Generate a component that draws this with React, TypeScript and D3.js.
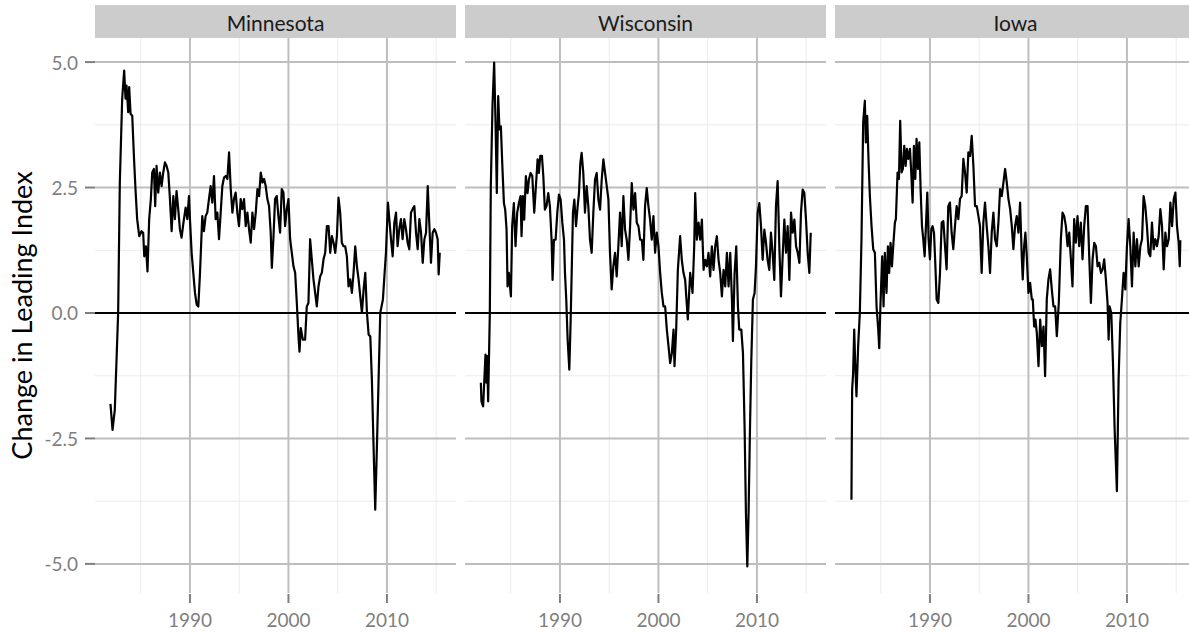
import { useEffect, useRef } from 'react'
import * as d3 from 'd3'

const states = ['Minnesota', 'Wisconsin', 'Iowa']

// [decimal year, change in leading index]
const minnesota: [number, number][] = [
  [1981.93, -1.81], [1982.14, -2.33], [1982.37, -1.93], [1982.71, 0.0], [1982.88, 2.6], [1983.12, 4.27], [1983.32, 4.83],
  [1983.46, 4.27], [1983.56, 4.53], [1983.73, 4.0], [1983.83, 4.5], [1983.97, 3.97], [1984.14, 3.93], [1984.31, 3.13],
  [1984.47, 2.47], [1984.64, 1.87], [1984.85, 1.53], [1985.08, 1.63], [1985.25, 1.6], [1985.36, 1.13], [1985.53, 1.33],
  [1985.69, 0.83], [1985.86, 1.87], [1986.03, 2.27], [1986.17, 2.8], [1986.34, 2.87], [1986.47, 2.13], [1986.61, 2.93],
  [1986.78, 2.4], [1986.95, 2.8], [1987.12, 2.53], [1987.29, 2.8], [1987.46, 3.0], [1987.63, 2.93], [1987.8, 2.8],
  [1987.97, 2.27], [1988.14, 1.63], [1988.31, 2.33], [1988.47, 1.87], [1988.64, 2.43], [1988.81, 2.07], [1988.98, 1.67],
  [1989.15, 1.5], [1989.32, 1.77], [1989.56, 2.1], [1989.73, 1.87], [1989.9, 2.33], [1990.0, 1.87], [1990.17, 1.2],
  [1990.34, 0.8], [1990.51, 0.4], [1990.68, 0.17], [1990.85, 0.13], [1991.02, 0.8], [1991.25, 1.93], [1991.42, 1.63],
  [1991.59, 1.93], [1991.76, 2.0], [1991.93, 2.27], [1992.1, 2.53], [1992.27, 2.2], [1992.44, 2.73], [1992.61, 1.87],
  [1992.78, 2.0], [1992.95, 1.47], [1993.12, 2.0], [1993.29, 2.53], [1993.46, 2.7], [1993.63, 2.73], [1993.8, 2.67],
  [1993.97, 3.2], [1994.14, 2.47], [1994.31, 2.0], [1994.47, 2.27], [1994.64, 2.4], [1994.81, 2.0], [1994.98, 1.73],
  [1995.15, 2.27], [1995.32, 2.07], [1995.49, 2.27], [1995.66, 1.73], [1995.83, 2.0], [1996.0, 1.67], [1996.17, 1.4],
  [1996.34, 2.0], [1996.51, 1.67], [1996.68, 2.0], [1996.85, 2.47], [1997.02, 2.33], [1997.19, 2.8], [1997.36, 2.6],
  [1997.53, 2.67], [1997.69, 2.53], [1997.86, 2.27], [1998.03, 2.13], [1998.2, 1.6], [1998.31, 0.9], [1998.47, 1.47],
  [1998.64, 2.27], [1998.81, 2.33], [1998.98, 1.93], [1999.15, 1.6], [1999.32, 2.47], [1999.49, 2.4], [1999.66, 1.73],
  [1999.83, 2.07], [2000.0, 2.27], [2000.17, 1.47], [2000.34, 1.2], [2000.51, 0.93], [2000.68, 0.8], [2000.85, 0.2],
  [2001.02, -0.47], [2001.12, -0.77], [2001.25, -0.3], [2001.46, -0.53], [2001.69, -0.53], [2001.86, 0.13], [2002.03, 0.2],
  [2002.2, 1.47], [2002.37, 1.07], [2002.54, 0.67], [2002.71, 0.4], [2002.88, 0.13], [2003.05, 0.53], [2003.22, 0.73],
  [2003.39, 0.8], [2003.56, 1.07], [2003.73, 1.2], [2003.9, 1.73], [2004.07, 1.73], [2004.24, 1.2], [2004.41, 1.53],
  [2004.58, 1.4], [2004.75, 1.2], [2004.92, 1.53], [2005.08, 2.3], [2005.25, 2.0], [2005.42, 1.4], [2005.59, 1.33],
  [2005.76, 1.33], [2005.93, 1.13], [2006.1, 0.53], [2006.27, 0.67], [2006.44, 0.4], [2006.61, 0.8], [2006.78, 1.33],
  [2006.95, 0.93], [2007.12, 0.67], [2007.29, 0.33], [2007.46, 0.0], [2007.63, 0.47], [2007.8, 0.8], [2007.97, 0.0],
  [2008.14, -0.43], [2008.31, -0.47], [2008.47, -1.33], [2008.64, -2.66], [2008.81, -3.92], [2008.98, -2.66],
  [2009.15, -1.33], [2009.32, 0.0], [2009.59, 0.27], [2009.73, 0.7], [2009.9, 1.2], [2010.1, 2.2], [2010.24, 1.87],
  [2010.41, 1.47], [2010.58, 1.13], [2010.75, 1.8], [2010.92, 2.0], [2011.08, 1.33], [2011.25, 1.67], [2011.42, 1.87],
  [2011.59, 1.47], [2011.76, 1.87], [2011.93, 1.67], [2012.1, 1.4], [2012.27, 1.27], [2012.44, 2.0], [2012.61, 2.07],
  [2012.78, 2.13], [2012.95, 1.6], [2013.12, 1.27], [2013.29, 1.87], [2013.46, 1.6], [2013.63, 1.0], [2013.8, 1.47],
  [2013.97, 1.6], [2014.14, 2.53], [2014.31, 1.73], [2014.47, 1.0], [2014.64, 1.6], [2014.81, 1.67], [2014.98, 1.6],
  [2015.15, 1.47], [2015.25, 0.77], [2015.36, 1.2],
]

const wisconsin: [number, number][] = [
  [1981.97, -1.39], [1982.03, -1.76], [1982.2, -1.86], [1982.31, -1.39], [1982.44, -0.83], [1982.54, -1.39],
  [1982.61, -0.86], [1982.71, -1.76], [1982.88, 0.0], [1982.98, 2.53], [1983.15, 4.12], [1983.32, 4.99], [1983.46, 3.79],
  [1983.59, 2.39], [1983.73, 4.32], [1983.86, 3.66], [1984.0, 3.72], [1984.14, 2.99], [1984.31, 2.19], [1984.44, 2.06],
  [1984.58, 1.66], [1984.68, 0.53], [1984.81, 0.8], [1985.02, 0.33], [1985.15, 1.73], [1985.32, 2.19], [1985.49, 1.33],
  [1985.66, 2.0], [1985.83, 2.19], [1986.0, 2.33], [1986.1, 1.53], [1986.24, 2.33], [1986.37, 1.86], [1986.54, 2.73],
  [1986.71, 2.39], [1986.85, 2.66], [1987.02, 2.79], [1987.19, 2.73], [1987.39, 2.0], [1987.56, 2.53], [1987.73, 3.06],
  [1987.86, 2.79], [1988.0, 3.13], [1988.17, 3.13], [1988.31, 2.73], [1988.47, 2.06], [1988.64, 2.13], [1988.81, 2.39],
  [1988.98, 2.13], [1989.15, 1.46], [1989.25, 0.66], [1989.39, 1.46], [1989.56, 1.46], [1989.73, 2.0], [1989.9, 2.36],
  [1990.07, 2.26], [1990.24, 1.8], [1990.41, 1.46], [1990.51, 0.8], [1990.64, 0.27], [1990.78, -0.53], [1990.95, -1.13],
  [1991.08, -0.2], [1991.19, 0.8], [1991.32, 2.0], [1991.46, 2.26], [1991.63, 1.73], [1991.8, 2.13], [1991.93, 2.39],
  [1992.07, 2.99], [1992.2, 3.19], [1992.37, 2.79], [1992.54, 2.0], [1992.71, 2.53], [1992.88, 2.13], [1993.05, 1.46],
  [1993.22, 1.2], [1993.39, 2.0], [1993.56, 2.66], [1993.73, 2.79], [1993.9, 2.26], [1994.07, 2.06], [1994.24, 2.66],
  [1994.41, 3.06], [1994.58, 2.79], [1994.75, 2.53], [1994.92, 2.26], [1995.08, 1.2], [1995.25, 0.47], [1995.42, 0.93],
  [1995.59, 1.2], [1995.76, 0.73], [1995.93, 1.33], [1996.1, 2.0], [1996.27, 1.33], [1996.44, 2.33], [1996.61, 1.66],
  [1996.78, 1.46], [1996.95, 1.06], [1997.12, 1.73], [1997.29, 2.59], [1997.46, 2.06], [1997.63, 2.39], [1997.8, 1.8],
  [1997.97, 1.73], [1998.14, 1.46], [1998.31, 1.46], [1998.47, 1.06], [1998.64, 2.13], [1998.81, 2.49], [1998.98, 2.13],
  [1999.15, 1.86], [1999.32, 1.46], [1999.49, 1.93], [1999.66, 1.2], [1999.83, 1.6], [2000.0, 1.33], [2000.17, 0.8],
  [2000.34, 0.4], [2000.51, 0.13], [2000.68, 0.13], [2000.85, -0.33], [2001.02, -0.66], [2001.19, -1.0], [2001.36, -0.8],
  [2001.53, -0.33], [2001.63, -1.06], [2001.8, -0.33], [2001.97, 0.86], [2002.2, 1.53], [2002.37, 1.06], [2002.54, 0.8],
  [2002.71, 0.66], [2002.98, -0.13], [2003.22, 0.8], [2003.46, 0.4], [2003.63, 1.33], [2003.73, 2.39], [2003.9, 1.46],
  [2004.07, 1.8], [2004.24, 1.46], [2004.41, 1.86], [2004.58, 0.86], [2004.75, 1.06], [2004.92, 0.93], [2005.08, 1.2],
  [2005.25, 0.73], [2005.42, 1.33], [2005.59, 0.86], [2005.76, 1.33], [2005.93, 1.53], [2006.1, 1.06], [2006.27, 0.8],
  [2006.44, 0.33], [2006.61, 0.86], [2006.78, 0.53], [2006.95, 1.2], [2007.12, 0.53], [2007.29, 1.2], [2007.46, 0.27],
  [2007.56, -0.56], [2007.73, 0.8], [2007.9, 1.33], [2008.07, 0.13], [2008.2, -0.33], [2008.41, -0.33], [2008.58, -0.8],
  [2008.75, -2.32], [2008.88, -3.98], [2009.02, -5.05], [2009.15, -3.98], [2009.29, -2.32], [2009.42, -1.0],
  [2009.59, 0.27], [2009.76, 0.4], [2009.9, 0.93], [2010.07, 2.0], [2010.24, 2.19], [2010.41, 1.73], [2010.58, 1.06],
  [2010.75, 1.66], [2010.92, 1.4], [2011.08, 1.06], [2011.25, 0.86], [2011.42, 1.6], [2011.59, 1.2], [2011.76, 0.66],
  [2011.93, 2.13], [2012.1, 2.63], [2012.27, 1.33], [2012.44, 0.33], [2012.61, 1.13], [2012.78, 1.86], [2012.95, 1.2],
  [2013.12, 1.73], [2013.29, 0.66], [2013.46, 2.0], [2013.63, 1.6], [2013.8, 1.86], [2013.97, 1.33], [2014.14, 1.2],
  [2014.31, 1.0], [2014.47, 2.0], [2014.64, 2.46], [2014.81, 2.39], [2014.98, 1.86], [2015.15, 1.2], [2015.32, 0.8],
  [2015.46, 1.6],
]

const iowa: [number, number][] = [
  [1982.03, -3.72], [1982.1, -1.53], [1982.2, -1.2], [1982.31, -0.33], [1982.41, -1.0], [1982.54, -1.66], [1982.71, -0.66],
  [1982.88, 0.0], [1983.05, 1.47], [1983.22, 3.8], [1983.39, 4.23], [1983.49, 3.4], [1983.63, 3.93], [1983.76, 3.07],
  [1983.9, 2.33], [1984.07, 1.73], [1984.24, 1.27], [1984.41, 1.2], [1984.58, 0.13], [1984.75, -0.33], [1984.85, -0.7],
  [1984.98, 0.2], [1985.15, 1.13], [1985.29, 0.13], [1985.42, 1.2], [1985.59, 0.4], [1985.73, 1.33], [1985.86, 0.8],
  [1986.0, 1.4], [1986.14, 0.93], [1986.27, 1.33], [1986.44, 1.8], [1986.54, 1.87], [1986.71, 2.8], [1986.85, 2.67],
  [1986.98, 3.83], [1987.12, 2.8], [1987.25, 2.87], [1987.39, 3.33], [1987.53, 2.93], [1987.66, 3.27], [1987.8, 3.07],
  [1987.97, 3.27], [1988.1, 2.8], [1988.24, 2.2], [1988.37, 3.33], [1988.51, 2.67], [1988.64, 3.47], [1988.78, 2.87],
  [1988.92, 3.4], [1989.05, 2.47], [1989.19, 1.73], [1989.32, 1.47], [1989.46, 1.13], [1989.59, 1.73], [1989.73, 2.4],
  [1989.86, 1.47], [1990.0, 1.07], [1990.14, 1.67], [1990.27, 1.73], [1990.41, 1.6], [1990.54, 1.0], [1990.68, 0.27],
  [1990.85, 0.2], [1991.02, 0.8], [1991.19, 1.8], [1991.36, 1.83], [1991.53, 1.33], [1991.69, 0.87], [1991.86, 2.13],
  [1992.03, 2.2], [1992.2, 1.6], [1992.37, 1.27], [1992.54, 1.73], [1992.71, 2.13], [1992.88, 1.87], [1993.05, 2.27],
  [1993.22, 2.33], [1993.39, 3.07], [1993.56, 2.8], [1993.73, 2.4], [1993.9, 3.2], [1994.07, 3.13], [1994.24, 3.53],
  [1994.41, 2.93], [1994.58, 2.13], [1994.75, 2.13], [1994.92, 1.93], [1995.08, 1.73], [1995.25, 0.8], [1995.42, 1.8],
  [1995.59, 2.2], [1995.76, 1.73], [1995.93, 1.33], [1996.1, 0.8], [1996.27, 1.6], [1996.44, 2.0], [1996.61, 1.47],
  [1996.78, 1.33], [1996.95, 1.8], [1997.12, 2.47], [1997.29, 2.33], [1997.46, 2.6], [1997.63, 2.87], [1997.8, 2.6],
  [1997.97, 2.27], [1998.14, 2.07], [1998.31, 1.73], [1998.47, 1.27], [1998.64, 1.73], [1998.81, 1.93], [1998.98, 1.6],
  [1999.15, 2.2], [1999.32, 1.13], [1999.42, 0.67], [1999.56, 1.33], [1999.69, 1.6], [1999.83, 1.13], [2000.0, 0.4],
  [2000.17, 0.6], [2000.34, 0.27], [2000.44, 0.27], [2000.58, -0.27], [2000.71, -0.13], [2000.85, -0.4], [2001.02, -1.06],
  [2001.19, -0.13], [2001.36, -0.66], [2001.53, -0.27], [2001.69, -1.26], [2001.86, 0.27], [2002.03, 0.67], [2002.2, 0.87],
  [2002.37, 0.47], [2002.54, 0.13], [2002.71, 0.13], [2002.88, -0.46], [2003.08, 0.2], [2003.29, 1.47], [2003.46, 2.0],
  [2003.63, 1.93], [2003.8, 1.73], [2003.97, 1.33], [2004.14, 1.6], [2004.31, 1.07], [2004.47, 0.53], [2004.64, 1.87],
  [2004.81, 1.4], [2004.98, 1.93], [2005.15, 1.33], [2005.32, 1.8], [2005.49, 1.07], [2005.66, 1.73], [2005.83, 2.13],
  [2006.0, 2.13], [2006.17, 1.13], [2006.34, 0.2], [2006.51, 1.07], [2006.68, 1.4], [2006.85, 1.33], [2007.02, 0.93],
  [2007.19, 1.0], [2007.36, 0.8], [2007.53, 0.87], [2007.69, 1.07], [2007.86, 0.67], [2008.03, 0.2], [2008.14, -0.53],
  [2008.24, 0.13], [2008.41, 0.0], [2008.58, -1.0], [2008.75, -2.32], [2008.98, -3.55], [2009.15, -1.33], [2009.32, -0.2],
  [2009.49, 0.27], [2009.66, 0.8], [2009.83, 0.47], [2010.0, 1.33], [2010.17, 1.87], [2010.34, 1.33], [2010.51, 0.53],
  [2010.68, 1.6], [2010.85, 0.93], [2011.02, 1.47], [2011.19, 0.93], [2011.36, 1.33], [2011.53, 1.47], [2011.69, 2.33],
  [2011.86, 2.13], [2012.03, 1.73], [2012.2, 1.2], [2012.37, 1.13], [2012.54, 1.8], [2012.71, 1.27], [2012.88, 1.47],
  [2013.05, 1.33], [2013.22, 1.53], [2013.39, 2.07], [2013.56, 1.73], [2013.73, 0.87], [2013.9, 1.6], [2014.07, 1.33],
  [2014.24, 1.47], [2014.41, 2.2], [2014.58, 1.73], [2014.75, 2.27], [2014.92, 2.4], [2015.08, 1.73], [2015.25, 1.4],
  [2015.36, 0.93], [2015.42, 1.45],
]

const series = [minnesota, wisconsin, iowa]

const yTicks = [-5, -2.5, 0, 2.5, 5]
const yMinor = [-3.75, -1.25, 1.25, 3.75]
const xTicks = [1990, 2000, 2010]
const xMinor = [1985, 1995, 2005, 2015]

const FONT = 'Lato, "Open Sans", sans-serif'

export default function App() {
  const svgRef = useRef<SVGSVGElement>(null)

  useEffect(() => {
    if (!svgRef.current) return
    const width = 1189
    const height = 635
    const panelLeft = 95
    const panelWidth = 361
    const panelStep = 370
    const stripTop = 5
    const top = 38
    const bottom = 593

    const svg = d3.select(svgRef.current)
    svg.selectAll('*').remove()
    svg.attr('width', width).attr('height', height)

    const x = d3.scaleLinear().domain([1980.36, 2017.01]).range([0, panelWidth])
    const y = d3.scaleLinear().domain([-5.58, 5.48]).range([bottom - top, 0])

    const line = d3.line<[number, number]>()
      .x(d => x(d[0]))
      .y(d => y(d[1]))

    states.forEach((state, i) => {
      const g = svg.append('g').attr('transform', `translate(${panelLeft + i * panelStep},${top})`)
      const h = bottom - top

      // strip
      svg.append('rect')
        .attr('x', panelLeft + i * panelStep)
        .attr('y', stripTop)
        .attr('width', panelWidth)
        .attr('height', top - stripTop)
        .attr('fill', '#cccccc')
      svg.append('text')
        .text(state)
        .attr('x', panelLeft + i * panelStep + panelWidth / 2)
        .attr('y', (stripTop + top) / 2 + 1)
        .attr('text-anchor', 'middle')
        .attr('dominant-baseline', 'central')
        .attr('font-family', FONT)
        .attr('font-size', '21px')
        .attr('fill', '#1a1a1a')

      // minor grid
      g.selectAll('.xminor').data(xMinor).join('line')
        .attr('x1', d => x(d)).attr('x2', d => x(d))
        .attr('y1', 0).attr('y2', h)
        .attr('stroke', '#ececec').attr('stroke-width', 1)
      g.selectAll('.yminor').data(yMinor).join('line')
        .attr('x1', 0).attr('x2', panelWidth)
        .attr('y1', d => y(d)).attr('y2', d => y(d))
        .attr('stroke', '#ececec').attr('stroke-width', 1)

      // major grid
      g.selectAll('.xmajor').data(xTicks).join('line')
        .attr('x1', d => x(d)).attr('x2', d => x(d))
        .attr('y1', 0).attr('y2', h)
        .attr('stroke', '#bebebe').attr('stroke-width', 2)
      g.selectAll('.ymajor').data(yTicks).join('line')
        .attr('x1', 0).attr('x2', panelWidth)
        .attr('y1', d => y(d)).attr('y2', d => y(d))
        .attr('stroke', '#bebebe').attr('stroke-width', 2)

      // zero reference
      g.append('line')
        .attr('x1', 0).attr('x2', panelWidth)
        .attr('y1', y(0)).attr('y2', y(0))
        .attr('stroke', '#000').attr('stroke-width', 2)

      // series
      g.append('path')
        .datum(series[i])
        .attr('d', line)
        .attr('fill', 'none')
        .attr('stroke', '#000')
        .attr('stroke-width', 2.2)
        .attr('stroke-linejoin', 'round')

      // x axis ticks + labels
      g.selectAll('.xtick').data(xTicks).join('line')
        .attr('x1', d => x(d)).attr('x2', d => x(d))
        .attr('y1', h + 1).attr('y2', h + 10)
        .attr('stroke', '#7f7f7f').attr('stroke-width', 2)
      g.selectAll('.xlab').data(xTicks).join('text')
        .text(d => d)
        .attr('x', d => x(d))
        .attr('y', h + 34)
        .attr('text-anchor', 'middle')
        .attr('font-family', FONT)
        .attr('font-size', '19px')
        .attr('fill', '#7f7f7f')

      // y axis only on first panel
      if (i === 0) {
        g.selectAll('.ytick').data(yTicks).join('line')
          .attr('x1', -10).attr('x2', 0)
          .attr('y1', d => y(d)).attr('y2', d => y(d))
          .attr('stroke', '#7f7f7f').attr('stroke-width', 2)
        g.selectAll('.ylab').data(yTicks).join('text')
          .text(d => d3.format('.1f')(d).replace('−', '-'))
          .attr('x', -17)
          .attr('y', d => y(d))
          .attr('text-anchor', 'end')
          .attr('dominant-baseline', 'central')
          .attr('font-family', FONT)
          .attr('font-size', '19px')
          .attr('fill', '#7f7f7f')
      }
    })

    svg.append('text')
      .text('Change in Leading Index')
      .attr('transform', `translate(32,${(top + bottom) / 2}) rotate(-90)`)
      .attr('text-anchor', 'middle')
      .attr('font-family', FONT)
      .attr('font-size', '27px')
      .attr('fill', '#000')
  }, [])

  return (
    <svg
      ref={svgRef}
      style={{ position: 'absolute', left: 0, top: 0, background: '#fff' }}
    ></svg>
  )
}
